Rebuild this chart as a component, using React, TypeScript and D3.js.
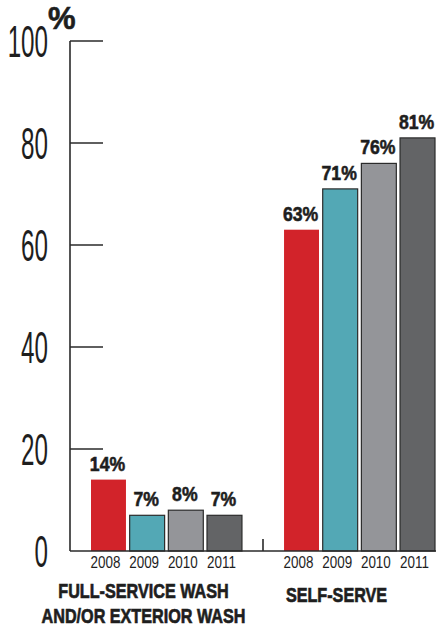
import React from "react";
import * as d3 from "d3";

const groups = ["FULL-SERVICE WASH|AND/OR EXTERIOR WASH", "SELF-SERVE"];
const years = ["2008", "2009", "2010", "2011"];
const fullService = [14, 7, 8, 7];
const selfServe = [63, 71, 76, 81];
const yTicks = [0, 20, 40, 60, 80, 100];
const colors = ["#d2232a", "#53a8b5", "#949599", "#636466"];
const strokes = ["none", "#2b2b2b", "#2b2b2b", "#2b2b2b"];

const seriesByGroup = [fullService, selfServe];

const W = 436;
const H = 631;
const ink = "#2a2a2a";
const textInk = "#1e1e1e";

export default function App() {
  const y = d3.scaleLinear().domain([0, 100]).range([551, 41]);
  const xg = d3.scaleBand<string>().domain(groups).range([91, 435]).paddingInner(0.218).paddingOuter(0);
  const xb = d3.scaleBand<string>().domain(years).range([0, xg.bandwidth()]).paddingInner(0.096).paddingOuter(0);
  const axisX = 70;
  const sepX = ((xg(groups[0]) as number) + xg.bandwidth() + (xg(groups[1]) as number)) / 2;

  return (
    <svg width={W} height={H} style={{ position: "absolute", left: 0, top: 0, background: "#fff" }}>
      {/* axis */}
      <line x1={axisX} x2={axisX} y1={y(100)} y2={y(0)} stroke={ink} strokeWidth={1.6} />
      {yTicks.filter((t) => t > 0).map((t) => (
        <line key={t} x1={axisX} x2={103} y1={y(t)} y2={y(t)} stroke={ink} strokeWidth={1.6} />
      ))}
      {yTicks.map((t) => (
        <text
          key={"l" + t}
          transform={`translate(48,${y(t) + 16}) scale(0.55,1)`}
          textAnchor="end"
          fontFamily="Liberation Sans"
          fontSize={44}
          fill={textInk}
        >
          {t}
        </text>
      ))}
      <text x={48} y={29} fontFamily="Liberation Sans" fontWeight="bold" fontSize={31} fill={textInk} stroke={textInk} strokeWidth={0.6}>
        %
      </text>

      {/* bars */}
      {groups.map((g, gi) => {
        const gx = xg(g) as number;
        const vals = seriesByGroup[gi];
        return (
          <g key={g}>
            {years.map((yr, i) => {
              const bx = gx + (xb(yr) as number);
              const bw = xb.bandwidth();
              const v = vals[i];
              return (
                <g key={yr}>
                  <rect
                    x={bx}
                    y={y(v)}
                    width={bw}
                    height={y(0) - y(v)}
                    fill={colors[i]}
                    stroke={strokes[i]}
                    strokeWidth={1.2}
                  />
                  <text
                    transform={`translate(${bx + bw / 2 - 1},${y(v) - 9}) scale(0.84,1)`}
                    textAnchor="middle"
                    fontFamily="Liberation Sans"
                    fontWeight="bold"
                    fontSize={21}
                    fill={textInk}
                    stroke={textInk}
                    strokeWidth={0.6}
                  >
                    {v}%
                  </text>
                  <text
                    transform={`translate(${bx + bw / 2 - 3},568) scale(0.84,1)`}
                    textAnchor="middle"
                    fontFamily="Liberation Sans"
                    fontSize={16}
                    fill={textInk}
                  >
                    {yr}
                  </text>
                </g>
              );
            })}
            {g.split("|").map((line, li) => (
              <text
                key={li}
                transform={`translate(${gx + xg.bandwidth() / 2 - 23},${598 + li * 25 + (gi === 1 ? 4 : 0)}) scale(0.77,1)`}
                textAnchor="middle"
                fontFamily="Liberation Sans"
                fontWeight="bold"
                fontSize={21}
                fill={textInk}
                stroke={textInk}
                strokeWidth={0.7}
              >
                {line}
              </text>
            ))}
          </g>
        );
      })}

      {/* baseline */}
      <line x1={axisX} x2={W} y1={y(0)} y2={y(0)} stroke={ink} strokeWidth={1.6} />
      <line x1={sepX} x2={sepX} y1={y(0)} y2={y(0) - 12} stroke={ink} strokeWidth={1.6} />
    </svg>
  );
}
